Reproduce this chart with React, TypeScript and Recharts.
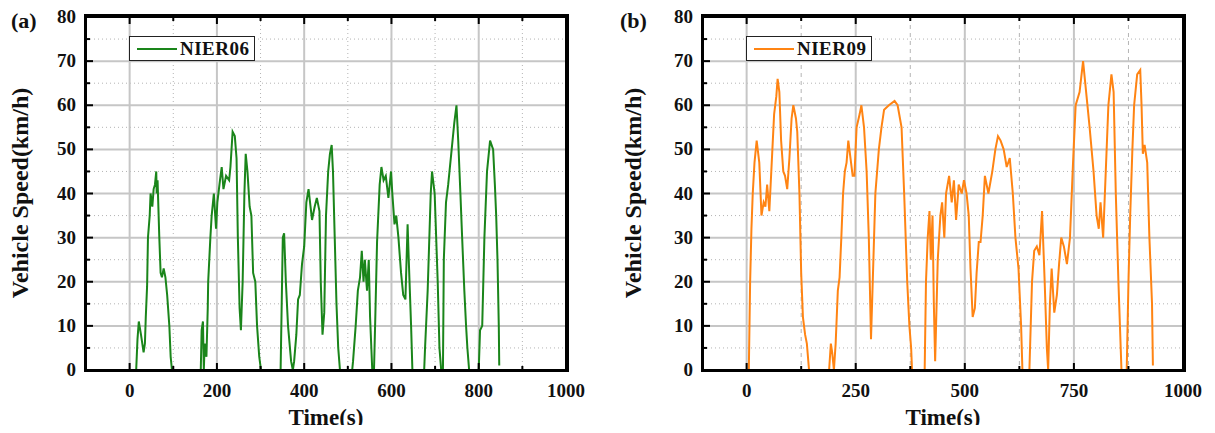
import React from 'react';
import { LineChart, Line, XAxis, YAxis, CartesianGrid, Legend } from 'recharts';

// NIER06 drive cycle (a)
const time06 = [
  0, 15, 18, 21, 26, 32, 35, 37, 40, 42, 46, 48, 52, 55, 58, 61, 62, 64, 68, 71, 74, 78, 82, 86, 91, 94, 97,
  163, 165, 168, 170, 172, 176, 179, 180, 185, 188, 193, 198, 201, 207, 211, 215, 221, 228, 231, 236, 241, 245, 248, 252, 255, 259, 263, 266, 270, 275, 279, 283, 288, 292, 297, 301,
  346, 351, 354, 358, 363, 370, 374, 377, 382, 386, 390, 395, 400, 405, 410, 418, 424, 429, 435, 438, 442, 446, 450, 455, 459, 463, 466, 470, 474, 478, 482,
  510, 512, 518, 523, 528, 532, 536, 539, 544, 548, 551, 556,
  560, 563, 567, 573, 577, 582, 587, 593, 599, 602, 607, 611, 616, 622, 627, 632, 637, 640, 645, 648,
  675, 677, 683, 690, 693, 699, 706, 710, 714, 718, 720, 725, 730, 738, 744, 749, 753, 758, 762, 767, 771, 774, 778,
  800, 803, 808, 813, 819, 826, 833, 837, 840, 843, 846, 847,
];
const speed06 = [
  0, 0, 7, 11, 8, 4, 6, 12, 19, 30, 35, 40, 37, 41, 42, 45, 40, 43, 30, 22, 21, 23, 21, 17, 10, 3, 0,
  0, 9, 11, 0, 6, 3, 14, 20, 30, 35, 40, 32, 38, 43, 46, 41, 44, 43, 46, 54, 53, 48, 30, 14, 9, 20, 40, 49, 45, 37, 35, 22, 20, 10, 3, 0,
  0, 30, 31, 20, 10, 2, 0, 2, 8, 16, 17, 24, 28, 38, 41, 34, 37, 39, 36, 20, 8, 13, 35, 45, 49, 51, 45, 30, 15, 5, 0,
  0, 2, 10, 18, 21, 27, 20, 25, 18, 25, 12, 0,
  0, 12, 29, 42, 46, 43, 44, 39, 45, 40, 33, 35, 30, 22, 17, 16, 33, 24, 10, 0,
  0, 5, 18, 40, 45, 40, 20, 5, 0, 0, 25, 38, 42, 50, 56, 60, 52, 40, 30, 18, 10, 5, 0,
  0, 9, 10, 30, 45, 52, 50, 42, 35, 25, 10, 1,
];

// NIER09 drive cycle (b)
const time09 = [
  0, 5, 8, 11, 14, 18, 23, 29, 34, 39, 43, 47, 52, 55, 59, 63, 68, 71, 75, 79, 84, 88, 93, 98, 103, 107, 113, 116, 121, 125, 129, 134, 138, 143,
  189, 193, 196, 200, 204, 209, 213, 217, 221, 225, 229, 233, 238, 243, 247, 252, 259, 263, 269, 275, 280, 285, 289, 295, 303, 309, 315, 326, 339, 346, 355, 361, 368, 373, 377, 379,
  408, 411, 415, 419, 422, 426, 429, 432, 438, 444, 448, 453, 457, 464, 470, 475, 480, 486, 493, 498, 504, 509, 513, 518, 523, 527, 532, 536, 541, 546, 554, 563, 570, 576, 582, 589, 596, 603, 610, 616, 623, 629, 632,
  648, 654, 659, 665, 671, 677, 683, 688, 691, 695, 699, 705, 711, 716, 721, 727, 734, 741, 748, 754, 763, 771, 779, 786, 795, 802, 807, 811, 817, 823, 829, 836, 841, 846, 852, 859,
  871, 875, 879, 884, 888, 895, 902, 905, 908, 912, 918, 923, 929, 931,
];
const speed09 = [
  0, 0, 20, 32, 40, 47, 52, 47, 35, 38, 37, 42, 36, 42, 50, 58, 62, 66, 63, 52, 45, 44, 41, 48, 57, 60, 57, 54, 40, 22, 12, 8, 6, 0,
  0, 6, 4, 0, 6, 18, 21, 30, 40, 45, 47, 52, 48, 44, 44, 55, 58, 60, 55, 45, 30, 7, 20, 40, 50, 55, 59, 60, 61, 60, 55, 40, 20, 10, 5, 0,
  0, 20, 30, 36, 25, 35, 15, 2, 25, 35, 38, 30, 40, 44, 38, 43, 34, 42, 40, 43, 40, 35, 23, 12, 14, 22, 29, 29, 35, 44, 40, 45, 50, 53, 52, 50, 46, 48, 40, 30, 23, 10, 0,
  0, 20, 27, 28, 26, 36, 20, 5, 0, 15, 23, 13, 17, 24, 30, 28, 24, 30, 47, 60, 63, 70, 62, 55, 45, 35, 32, 38, 30, 45, 60, 67, 63, 40, 20, 0,
  0, 20, 35, 50, 60, 67, 68, 60, 49, 51, 47, 30, 15, 1,
];

const timeTicksA = [0, 200, 400, 600, 800, 1000];
const timeMinorA = [100, 300, 500, 700, 900];
const timeTicksB = [0, 250, 500, 750, 1000];
const timeMinorB = [125, 375, 625, 875];
const speedTicks = [0, 10, 20, 30, 40, 50, 60, 70, 80];
const speedMinor = [5, 15, 25, 35, 45, 55, 65, 75];

const SERIF = '"Liberation Serif", "Times New Roman", serif';
const W = 596;
const H = 433;

// inward tick marks on the bottom / left axes, labels outside
const makeTick = (side: string, majors: number[]) => (props: any) => {
  const { x, y, payload } = props;
  const major = majors.includes(payload.value);
  const len = major ? 7 : 4;
  if (side === 'bottom') {
    return (
      <g>
        <line x1={x} y1={y} x2={x} y2={y - len} stroke="#000" strokeWidth={2} />
        {major && (
          <text x={x} y={y + 27} textAnchor="middle" fontFamily={SERIF} fontWeight={700} fontSize={19} fill="#111">
            {payload.value}
          </text>
        )}
      </g>
    );
  }
  return (
    <g>
      <line x1={x} y1={y} x2={x + len} y2={y} stroke="#000" strokeWidth={2} />
      {major && (
        <text x={x - 10} y={y + 6} textAnchor="end" fontFamily={SERIF} fontWeight={700} fontSize={19} fill="#111">
          {payload.value}
        </text>
      )}
    </g>
  );
};

// mirrored inward ticks on the top / right borders
const makeMirrorTick = (side: string, majors: number[]) => (props: any) => {
  const { x, y, payload } = props;
  const len = majors.includes(payload.value) ? 7 : 4;
  if (side === 'top') return <line x1={x} y1={y} x2={x} y2={y + len} stroke="#000" strokeWidth={2} />;
  return <line x1={x} y1={y} x2={x - len} y2={y} stroke="#000" strokeWidth={2} />;
};

const LegendBox = ({ payload }: any) => {
  const item = payload && payload[0];
  if (!item) return null;
  return (
    <div
      style={{
        border: '1.5px solid #222',
        background: '#fff',
        width: 126,
        height: 25,
        boxSizing: 'border-box',
        display: 'flex',
        alignItems: 'center',
        paddingLeft: 7,
      }}
    >
      <div style={{ width: 40, height: 2, background: item.color }} />
      <span style={{ fontFamily: SERIF, fontWeight: 700, fontSize: 19, color: '#111', marginLeft: 3, letterSpacing: 0.5 }}>
        {item.value}
      </span>
    </div>
  );
};

interface PanelProps {
  times: number[];
  speeds: number[];
  name: string;
  color: string;
  majorX: number[];
  minorX: number[];
  minorXDash: string;
  tag: string;
  tagLeft: number;
  titleX: number;
}

const Panel = ({ times, speeds, name, color, majorX, minorX, minorXDash, tag, tagLeft, titleX }: PanelProps) => {
  const data = times.map((t, i) => ({ t, v: speeds[i] }));
  const xTicks = [...majorX, ...minorX].sort((a, b) => a - b);
  const yTicks = [...speedTicks, ...speedMinor].sort((a, b) => a - b);
  return (
    <div style={{ position: 'relative', width: W, height: H }}>
      <LineChart width={W} height={H} data={data} margin={{ top: 16, right: 29, bottom: 0, left: 0 }}>
        <CartesianGrid vertical={false} horizontalValues={speedMinor} stroke="#b4b4b4" strokeWidth={1} strokeDasharray="1 3" />
        <CartesianGrid horizontal={false} verticalValues={minorX} stroke="#b4b4b4" strokeWidth={1} strokeDasharray={minorXDash} />
        <CartesianGrid verticalValues={majorX} horizontalValues={speedTicks} stroke="#c6c6c6" strokeWidth={2} />
        <XAxis
          dataKey="t"
          type="number"
          domain={[-100, 1000]}
          ticks={xTicks}
          interval={0}
          height={63}
          tickSize={0}
          tickMargin={0}
          axisLine={{ stroke: '#000', strokeWidth: 2 }}
          tick={makeTick('bottom', majorX)}
          label={{
            value: 'Time(s)',
            position: 'insideBottom',
            offset: 8,
            style: { fontFamily: SERIF, fontWeight: 700, fontSize: 23, fill: '#111' },
          }}
        />
        <XAxis
          xAxisId="top"
          orientation="top"
          dataKey="t"
          type="number"
          domain={[-100, 1000]}
          ticks={xTicks}
          interval={0}
          height={1}
          tickSize={0}
          tickMargin={0}
          axisLine={{ stroke: '#000', strokeWidth: 2 }}
          tick={makeMirrorTick('top', majorX)}
        />
        <YAxis
          type="number"
          domain={[0, 80]}
          ticks={yTicks}
          interval={0}
          width={86}
          tickSize={0}
          tickMargin={0}
          axisLine={{ stroke: '#000', strokeWidth: 2 }}
          tick={makeTick('left', speedTicks)}
        />
        <YAxis
          yAxisId="right"
          orientation="right"
          type="number"
          domain={[0, 80]}
          ticks={yTicks}
          interval={0}
          width={1}
          tickSize={0}
          tickMargin={0}
          axisLine={{ stroke: '#000', strokeWidth: 2 }}
          tick={makeMirrorTick('right', speedTicks)}
        />
        <Legend
          layout="horizontal"
          verticalAlign="middle"
          align="center"
          wrapperStyle={{ left: 129, top: 36, width: 'auto', height: 'auto' }}
          content={(p: any) => <LegendBox payload={p.payload} />}
        />
        <Line type="linear" dataKey="v" name={name} stroke={color} strokeWidth={2} dot={false} isAnimationActive={false} />
      </LineChart>
      {/* plot frame, drawn as an overlay so it always sits on top */}
      <div
        style={{
          position: 'absolute',
          left: 84,
          top: 14,
          width: 485,
          height: 358,
          boxSizing: 'border-box',
          border: '3px solid #000',
          pointerEvents: 'none',
          zIndex: 5,
        }}
      />
      <div
        style={{
          position: 'absolute',
          left: titleX - 150,
          top: 181,
          width: 300,
          lineHeight: '24px',
          textAlign: 'center',
          transform: 'rotate(-90deg)',
          fontFamily: SERIF,
          fontWeight: 700,
          fontSize: 24,
          color: '#111',
          whiteSpace: 'nowrap',
        }}
      >
        Vehicle Speed(km/h)
      </div>
      <div
        style={{
          position: 'absolute',
          left: tagLeft,
          top: 10,
          fontFamily: SERIF,
          fontWeight: 700,
          fontSize: 22,
          lineHeight: '22px',
          color: '#111',
        }}
      >
        {tag}
      </div>
    </div>
  );
};

export default function App() {
  return (
    <div style={{ position: 'relative', width: 1215, height: 433, margin: -8 }}>
      <div style={{ position: 'absolute', left: 0, top: 0 }}>
        <Panel
          times={time06}
          speeds={speed06}
          name="NIER06"
          color="#1a851a"
          majorX={timeTicksA}
          minorX={timeMinorA}
          minorXDash="1 3"
          tag="(a)"
          tagLeft={11}
          titleX={20}
        />
      </div>
      <div style={{ position: 'absolute', left: 617, top: 0 }}>
        <Panel
          times={time09}
          speeds={speed09}
          name="NIER09"
          color="#ff8413"
          majorX={timeTicksB}
          minorX={timeMinorB}
          minorXDash="4 4"
          tag="(b)"
          tagLeft={3}
          titleX={16}
        />
      </div>
    </div>
  );
}
